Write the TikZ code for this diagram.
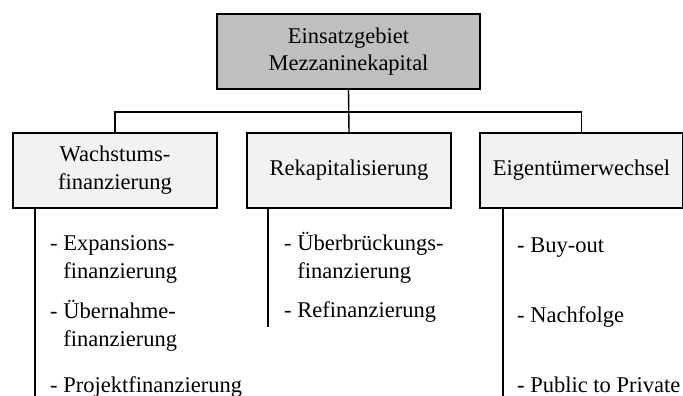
\documentclass[tikz,border=0pt]{standalone}
\usepackage{fontspec}
\setmainfont{Liberation Serif}
\newcommand{\eintrag}[1]{-~\begin{tabular}[t]{@{}l@{}}#1\end{tabular}}
\begin{document}
\begin{tikzpicture}[
    x=1pt, y=-1pt,
    box/.style={rectangle,draw,line width=1.4pt,fill=gray!10,minimum width=204pt,minimum height=75pt,inner sep=0pt,align=center},
    topbox/.style={box,fill=gray!50,minimum width=263pt,font=\fontsize{22.5}{27}\selectfont},
    entry/.style={anchor=base west,inner sep=0pt},
    every node/.style={font=\fontsize{22.5}{28}\selectfont}
]
\useasboundingbox (0,0) rectangle (683,396);

% Oberster Knoten
\node[topbox] (top) at (348.5,51.5) {Einsatzgebiet\\Mezzaninekapital};

% Drei Bereiche
\node[box] (wachstum) at (115,170.5) {Wachstums-\\finanzierung};
\node[box] (rekap) at (349,170.5) {Rekapitalisierung};
\node[box,minimum width=203pt] (eigen) at (581.5,170.5) {Eigentümerwechsel};

% Verbindungen
\coordinate (bus) at (348,112);
\draw[line width=1.4pt] (top.south) -- (rekap.north);
\draw[line width=1.4pt] (wachstum.north) |- (bus) -| (eigen.north);

% Senkrechte Linien unter den Kästen
\coordinate (wend) at (35,396);
\coordinate (rend) at (268,327);
\coordinate (eend) at (503,396);
\draw[line width=1.4pt] (wachstum.south -| wend) -- (wend);
\draw[line width=1.4pt] (rekap.south -| rend) -- (rend);
\draw[line width=1.4pt] (eigen.south -| eend) -- (eend);

% Einträge
\node[entry] (w1) at (50,250) {\eintrag{Expansions-\\finanzierung}};
\node[entry] (w2) at (50,318) {\eintrag{Übernahme-\\finanzierung}};
\node[entry] (w3) at (50,392) {\eintrag{Projektfinanzierung}};

\node[entry] (r1) at (284,250) {\eintrag{Überbrückungs-\\finanzierung}};
\node[entry] (r2) at (284,317) {\eintrag{Refinanzierung}};

\node[entry] (e1) at (517,252) {\eintrag{Buy-out}};
\node[entry] (e2) at (517,322) {\eintrag{Nachfolge}};
\node[entry] (e3) at (517,392) {\eintrag{Public to Private}};

\end{tikzpicture}
\end{document}
